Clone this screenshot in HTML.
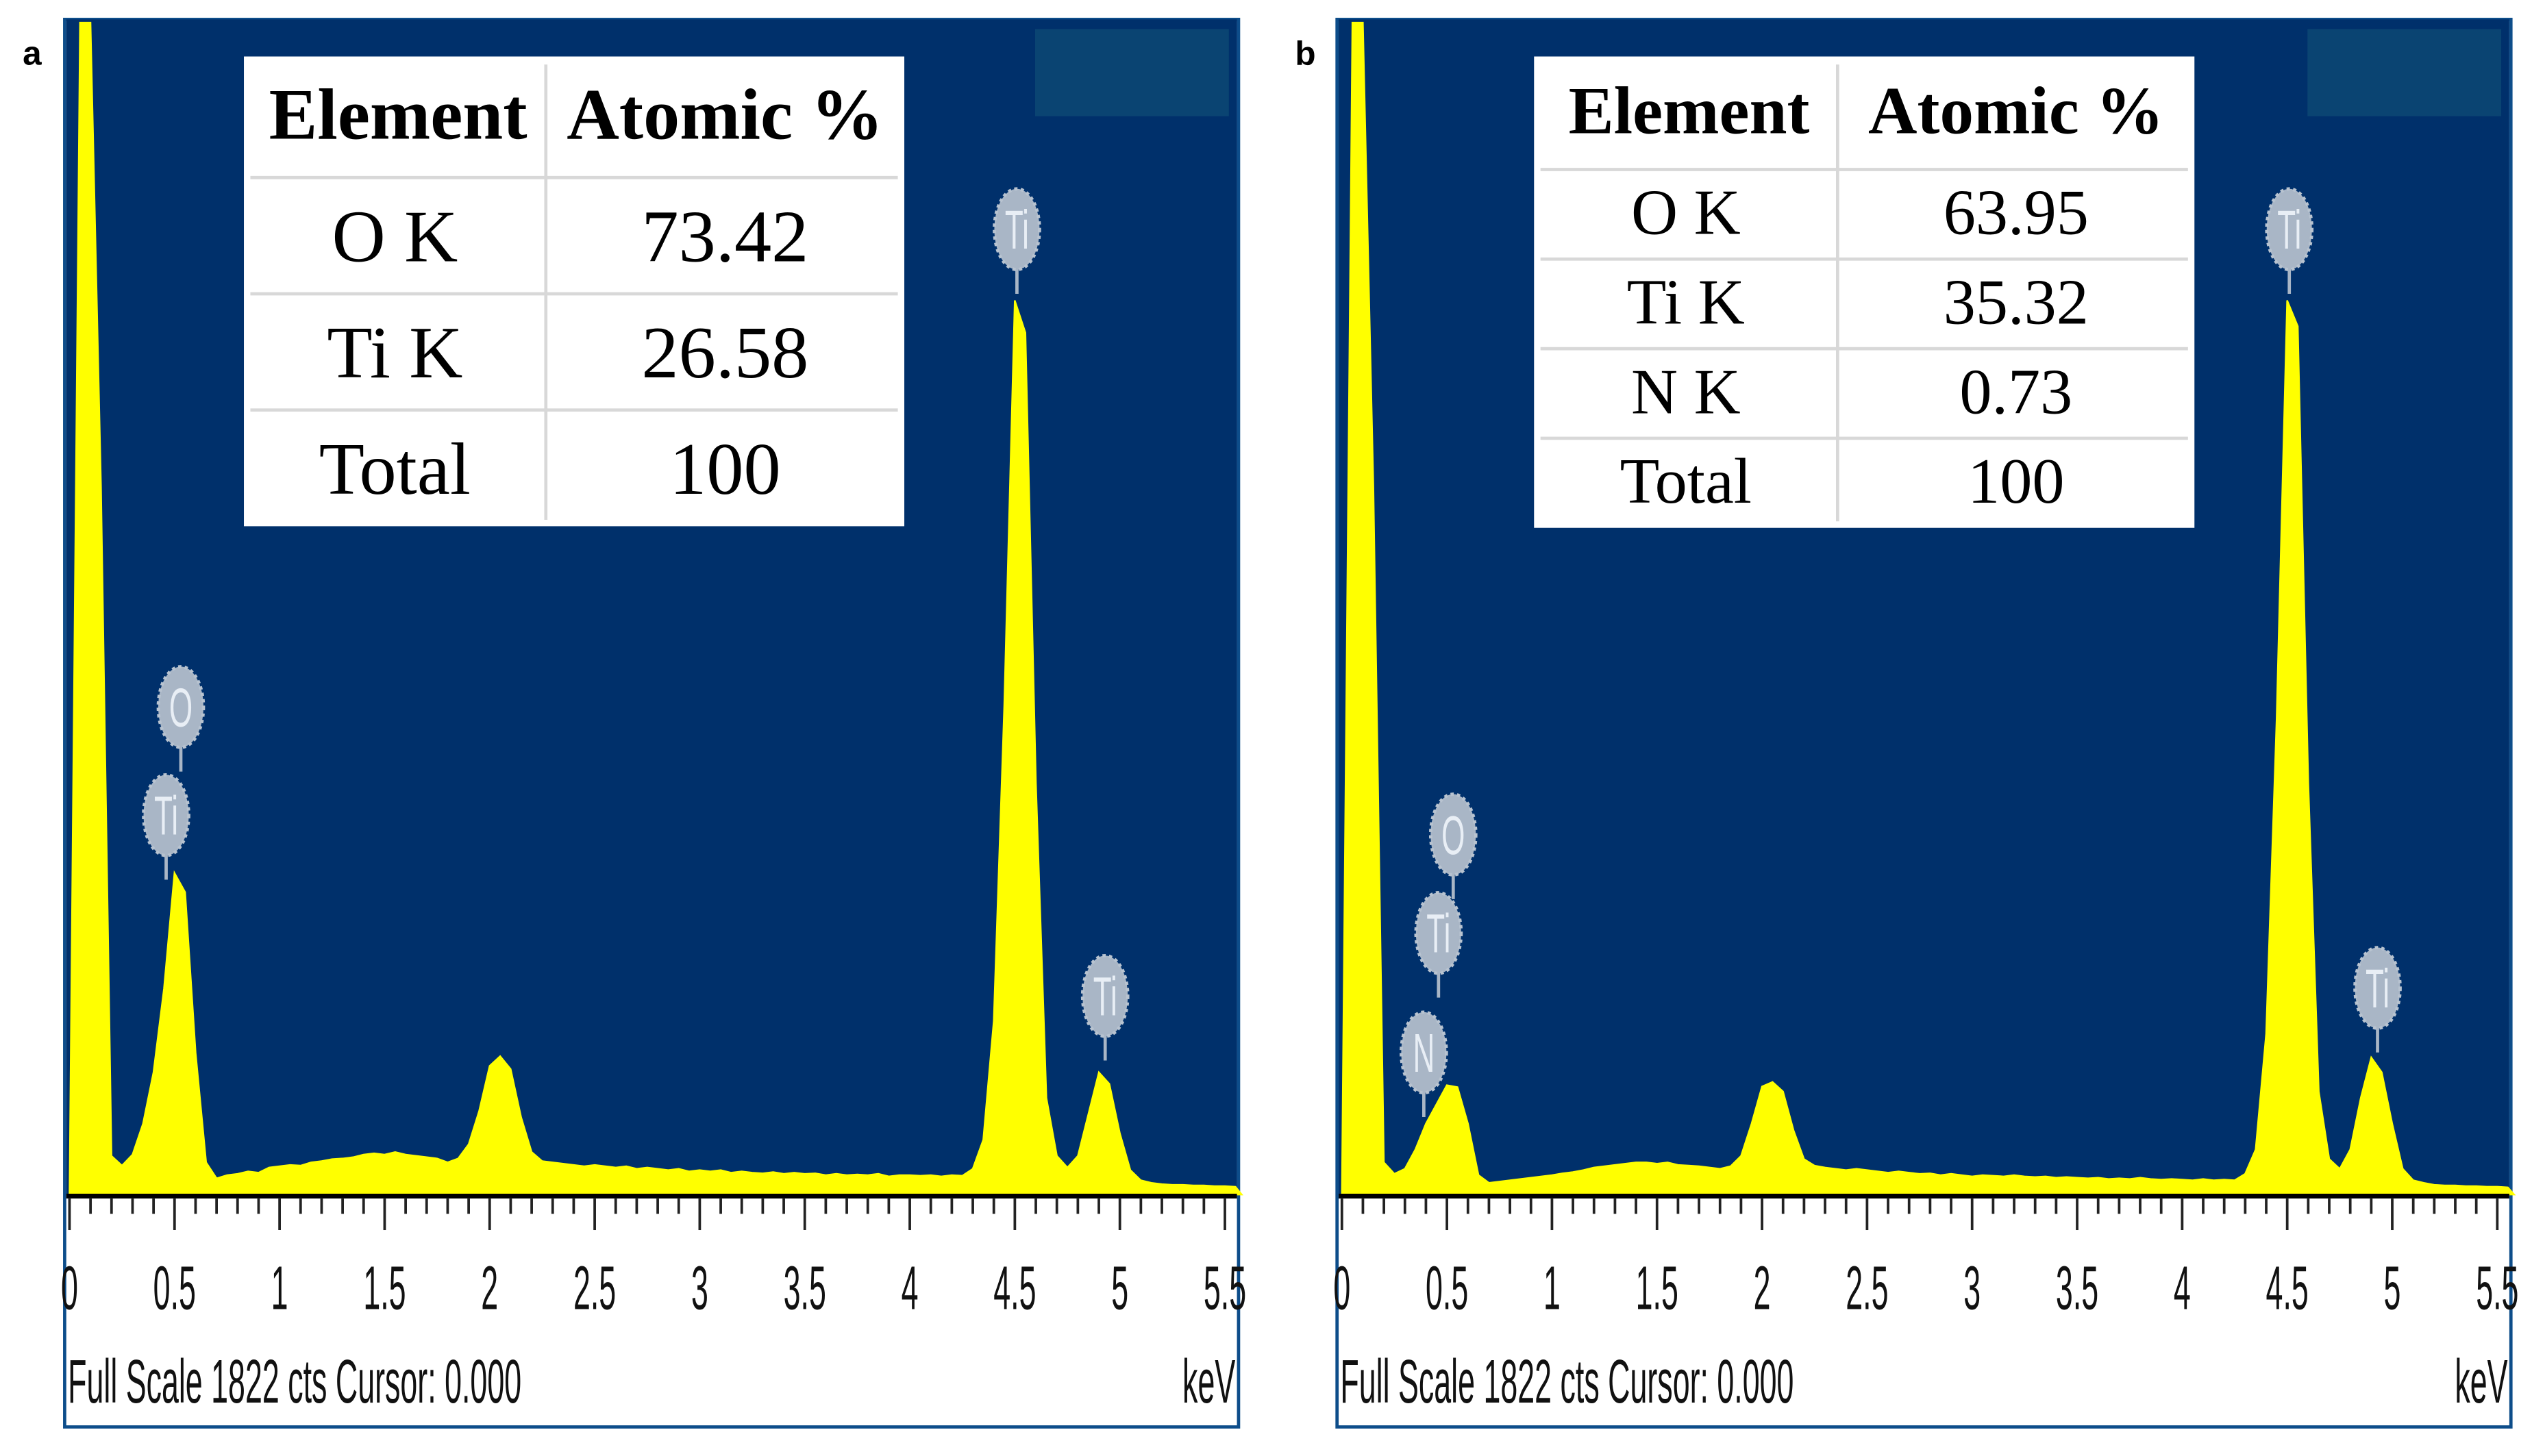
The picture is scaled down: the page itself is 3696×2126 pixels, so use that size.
<!DOCTYPE html>
<html><head><meta charset="utf-8">
<style>
html,body{margin:0;padding:0;background:#fff;}
svg{display:block;}
.tk{font-family:"Liberation Sans",sans-serif;font-size:38px;fill:#111;}
.tb{font-family:"Liberation Serif",serif;fill:#000;}
</style></head>
<body>
<svg id="fig" width="3696" height="2126" viewBox="0 0 1568 902" xmlns="http://www.w3.org/2000/svg">
<rect x="0" y="0" width="1568" height="902" fill="#fff"/>
<g id="panelA"></g>
<g id="panelB"></g>
</svg>
<script>
// energy axis sampled every 0.05 keV from 0 to 5.55
const energies = [0,0.05,0.1,0.15,0.2,0.25,0.3,0.35,0.4,0.45,0.5,0.55,0.6,0.65,0.7,0.75,0.8,0.85,0.9,0.95,1.0,1.05,1.1,1.15,1.2,1.25,1.3,1.35,1.4,1.45,1.5,1.55,1.6,1.65,1.7,1.75,1.8,1.85,1.9,1.95,2.0,2.05,2.1,2.15,2.2,2.25,2.3,2.35,2.4,2.45,2.5,2.55,2.6,2.65,2.7,2.75,2.8,2.85,2.9,2.95,3.0,3.05,3.1,3.15,3.2,3.25,3.3,3.35,3.4,3.45,3.5,3.55,3.6,3.65,3.7,3.75,3.8,3.85,3.9,3.95,4.0,4.05,4.1,4.15,4.2,4.25,4.3,4.35,4.4,4.45,4.5,4.55,4.6,4.65,4.7,4.75,4.8,4.85,4.9,4.95,5.0,5.05,5.1,5.15,5.2,5.25,5.3,5.35,5.4,5.45,5.5,5.55];
const countsA = [0,1822,1822,1100,60,45,62,110,190,320,500,470,220,50,25,30,32,36,34,42,44,46,45,50,52,55,56,58,62,64,62,66,62,60,58,56,50,56,78,130,200,215,195,120,66,52,50,48,46,44,46,44,42,44,40,42,40,38,40,36,38,36,38,34,36,34,33,35,32,34,32,33,30,32,30,31,30,32,28,30,30,29,30,28,30,29,40,85,270,760,1390,1340,640,150,60,42,60,125,190,172,95,38,22,18,16,15,15,14,14,13,13,12];
const countsB = [0,1822,1822,1100,50,32,40,70,110,140,170,167,110,30,18,20,22,24,26,28,30,33,35,38,42,44,46,48,50,50,48,50,46,45,44,42,40,44,60,110,168,175,160,100,55,45,42,40,38,40,38,36,34,36,34,32,33,30,32,30,28,30,29,28,30,28,27,28,26,27,26,25,26,24,25,24,26,24,23,24,23,22,24,22,23,22,32,70,250,740,1390,1350,640,160,55,40,70,150,213,190,110,40,22,18,15,14,14,13,13,12,12,11];
const xTickLabels = ["0","0.5","1","1.5","2","2.5","3","3.5","4","4.5","5","5.5"];
const tableHead = ["Element","Atomic %"];
const tableRowsA = [["O K","73.42"],["Ti K","26.58"],["Total","100"]];
const tableRowsB = [["O K","63.95"],["Ti K","35.32"],["N K","0.73"],["Total","100"]];
const peakLabelsA = [["O",0.53,438],["Ti",0.46,505],["Ti",4.51,142],["Ti",4.93,617]];
const peakLabelsB = [["O",0.53,517],["Ti",0.46,578],["N",0.39,652],["Ti",4.51,142],["Ti",4.93,612]];
const fullScale = 1822;

const NS="http://www.w3.org/2000/svg";
function mk(parent,tag,attrs,text){const e=document.createElementNS(NS,tag);for(const k in attrs)e.setAttribute(k,attrs[k]);if(text!==undefined)e.textContent=text;parent.appendChild(e);return e;}

function drawPanel(g,opt){
  const L=opt.left,R=L+727,T=12,B=884,base=740,x0=L+3,kev=130.1;
  const xs=e=>x0+e*kev;
  const ys=c=>base-(Math.min(c,fullScale)/fullScale)*(base-T-2);
  const lab=mk(g,'text',{x:opt.left-26,y:40,'font-family':'Liberation Sans, sans-serif','font-weight':'bold','font-size':21,fill:'#000'},opt.letter);
  
  
  const frame=mk(g,'rect',{x:L,y:T,width:R-L,height:B-T,fill:'#fff',stroke:'#0d4d8a','stroke-width':2});
  
  
  const plot=mk(g,'rect',{x:L+1,y:T,width:R-L-2,height:base-T,fill:'#00306b'});
  
  
  const box=mk(g,'rect',{x:R-126,y:18,width:120,height:54,fill:'#0a4472'});
  
  
  let d='M'+xs(energies[0])+','+base;
  for(let i=0;i<energies.length;i++){const e=Math.min(energies[i],5.58);d+=' L'+xs(e).toFixed(1)+','+ys(opt.counts[i]).toFixed(1);}
  d+=' L'+xs(5.58)+','+base+' Z';
  const sp=mk(g,'path',{d:d,fill:'#ffff00',stroke:'#ffff00','stroke-width':1});
  
  
  mk(g,'line',{x1:L+1,y1:base+1,x2:R-1,y2:base+1,stroke:'#000','stroke-width':3});
  for(let i=0;i<=55;i++){
    const x=xs(i/10);const major=i%5===0;
    const t=mk(g,'line',{x1:x,y1:base+2,x2:x,y2:base+(major?22:12),stroke:'#222','stroke-width':1.6});
    
    
  }
  xTickLabels.forEach((s,i)=>{
    const x=xs(i*0.5);
    const t=mk(g,'text',{class:'tk','text-anchor':'middle',transform:`translate(${x},${811}) scale(0.5,1)`},s);
    
    
  });
  const f=mk(g,'text',{class:'tk',transform:`translate(${L+2},${869}) scale(0.5,1)`},'Full Scale 1822 cts Cursor: 0.000');
  
  
  const k=mk(g,'text',{class:'tk','text-anchor':'end',transform:`translate(${R-2},${869}) scale(0.5,1)`},'keV');
  
  
  opt.peaks.forEach(p=>{
    const x=xs(p[1]),y=p[2];
    const pg=mk(g,'g',{});
    
    
    mk(pg,'line',{x1:x,y1:y,x2:x,y2:y+40,stroke:'#a9b6c6','stroke-width':2});
    mk(pg,'ellipse',{cx:x,cy:y,rx:14,ry:25,fill:'#a9b6c6',stroke:'#b8c3d0','stroke-width':2,'stroke-dasharray':'2 2'});
    mk(pg,'text',{'text-anchor':'middle',transform:`translate(${x},${y+12}) scale(0.55,1)`,'font-family':'Liberation Sans, sans-serif','font-size':34,fill:'#e8eef5'},p[0]);
  });
  const tg=mk(g,'g',{});
  
  
  const tx=opt.tx,tw=409,cx=opt.cdiv,rows=opt.rows,rh=opt.rowH,hh=opt.headH;
  const th=hh+rows.length*rh;
  mk(tg,'rect',{x:tx,y:35,width:tw,height:th,fill:'#fff'});
  mk(tg,'line',{x1:cx,y1:40,x2:cx,y2:35+th-4,stroke:'#d8d8d8','stroke-width':2});
  for(let i=0;i<rows.length;i++){const y=35+hh+i*rh;mk(tg,'line',{x1:tx+4,y1:y,x2:tx+tw-4,y2:y,stroke:'#d8d8d8','stroke-width':2});}
  mk(tg,'text',{class:'tb',x:(tx+cx)/2+2,y:35+hh*0.68,'text-anchor':'middle','font-weight':'bold','font-size':opt.hfs},tableHead[0]);
  mk(tg,'text',{class:'tb',x:(cx+tx+tw)/2,y:35+hh*0.68,'text-anchor':'middle','font-weight':'bold','font-size':opt.hfs},tableHead[1]);
  rows.forEach((r,i)=>{
    const y=35+hh+i*rh+rh*0.72;
    mk(tg,'text',{class:'tb',x:(tx+cx)/2,y:y,'text-anchor':'middle','font-size':opt.fs},r[0]);
    mk(tg,'text',{class:'tb',x:(cx+tx+tw)/2,y:y,'text-anchor':'middle','font-size':opt.fs},r[1]);
  });
}
drawPanel(document.getElementById('panelA'),{left:40,letter:'a',counts:countsA,peaks:peakLabelsA,tx:151,cdiv:338,rows:tableRowsA,rowH:72,headH:75,hfs:45,fs:46});
drawPanel(document.getElementById('panelB'),{left:828,letter:'b',counts:countsB,peaks:peakLabelsB,tx:950,cdiv:1138,rows:tableRowsB,rowH:55.5,headH:70,hfs:42,fs:40});
</script>
</body></html>
